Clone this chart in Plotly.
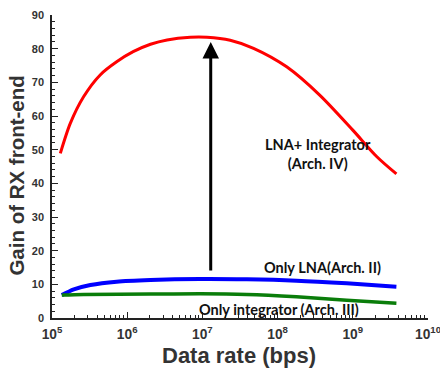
import math
import plotly.graph_objects as go

# Data (x in bps, y = gain)
rate_lna_int = [1.29e5, 1.75e5, 2.63e5, 4.37e5, 7.24e5, 1.2e6, 2.04e6, 3.39e6,
                6.9e6, 1.15e7, 2.34e7, 4.79e7, 1.32e8, 3.63e8, 1.0e9, 2.09e9, 3.8e9]
gain_lna_int = [48.9, 57.8, 65.7, 72.2, 76.1, 79.1, 81.3, 82.6,
                83.4, 83.4, 82.5, 80.1, 74.6, 66.2, 55.8, 47.9, 42.8]

rate_lna = [1.35e5, 1.95e5, 3.24e5, 7.24e5, 2.04e6, 9.3e6, 3.9e7, 1.78e8, 8.3e8, 3.8e9]
gain_lna = [6.8, 8.5, 9.8, 10.8, 11.3, 11.6, 11.5, 11.1, 10.3, 9.3]

rate_int = [1.35e5, 2.63e5, 2.04e6, 9.3e6, 3.9e7, 1.78e8, 8.3e8, 3.8e9]
gain_int = [6.8, 7.0, 7.1, 7.2, 7.0, 6.3, 5.3, 4.4]

arrow_rate = 1.29e7
arrow_from = 13.7
arrow_to = 82.0

labels = [
    ("LNA+ Integrator<br>(Arch. IV)", 3.46e8, 48.6),
    ("Only LNA(Arch. II)", 3.9e8, 15.1),
    ("Only integrator (Arch. III)", 1.05e8, 2.5),
]

x_title = "Data rate (bps)"
y_title = "Gain of RX front-end"

fig = go.Figure()
fig.add_trace(go.Scatter(x=rate_lna_int, y=gain_lna_int, mode="lines",
                         line=dict(color="#ff0000", width=3, shape="spline", smoothing=0.8),
                         showlegend=False))
fig.add_trace(go.Scatter(x=rate_lna, y=gain_lna, mode="lines",
                         line=dict(color="#0000ff", width=4, shape="spline", smoothing=0.8),
                         showlegend=False))
fig.add_trace(go.Scatter(x=rate_int, y=gain_int, mode="lines",
                         line=dict(color="#0a7d0a", width=3.5, shape="spline", smoothing=0.8),
                         showlegend=False))

fig.add_annotation(x=math.log10(arrow_rate), y=arrow_to, ax=math.log10(arrow_rate), ay=arrow_from,
                   xref="x", yref="y", axref="x", ayref="y", text="", showarrow=True,
                   arrowhead=2, arrowsize=1.1, arrowwidth=3, arrowcolor="black")

for txt, xv, yv in labels:
    fig.add_annotation(x=math.log10(xv), y=yv, xref="x", yref="y", text="<b>" + txt + "</b>",
                       showarrow=False,
                       font=dict(family="Lato, Open Sans, sans-serif", size=14.5, color="#111"))

title_family = "Liberation Sans, Arial, sans-serif"
fig.add_annotation(x=0.497, y=-0.124, xref="paper", yref="paper", text="<b>" + x_title + "</b>",
                   showarrow=False, xanchor="center", yanchor="middle",
                   font=dict(family=title_family, size=22, color="#333"))
fig.add_annotation(x=-0.093, y=0.47, xref="paper", yref="paper", text="<b>" + y_title + "</b>",
                   showarrow=False, xanchor="center", yanchor="middle", textangle=-90,
                   font=dict(family=title_family, size=20.5, color="#333"))

axis_font = dict(family=title_family, size=11, color="#333", weight="bold")
fig.update_layout(
    width=440, height=369,
    margin=dict(l=52, r=12, t=15, b=51),
    plot_bgcolor="white", paper_bgcolor="white",
    xaxis=dict(type="log", range=[5, 10], dtick=1, exponentformat="power", showexponent="all",
               showline=True, linecolor="#222", linewidth=1.5, ticks="inside", ticklen=6,
               tickcolor="#222", showgrid=False, zeroline=False, tickfont=axis_font,
               ticklabelstandoff=3, ticklabeloverflow="allow", automargin=False,
               minor=dict(ticks="inside", ticklen=3, tickcolor="#222", showgrid=False)),
    yaxis=dict(range=[0, 90], dtick=10, showline=True, linecolor="#222", linewidth=1.5,
               ticks="inside", ticklen=6, tickcolor="#222", showgrid=False, zeroline=False,
               tickfont=axis_font, ticklabelstandoff=4, automargin=False,
               minor=dict(ticks="inside", ticklen=3, dtick=2, tickcolor="#222", showgrid=False)),
)

fig.write_html("out.html")
